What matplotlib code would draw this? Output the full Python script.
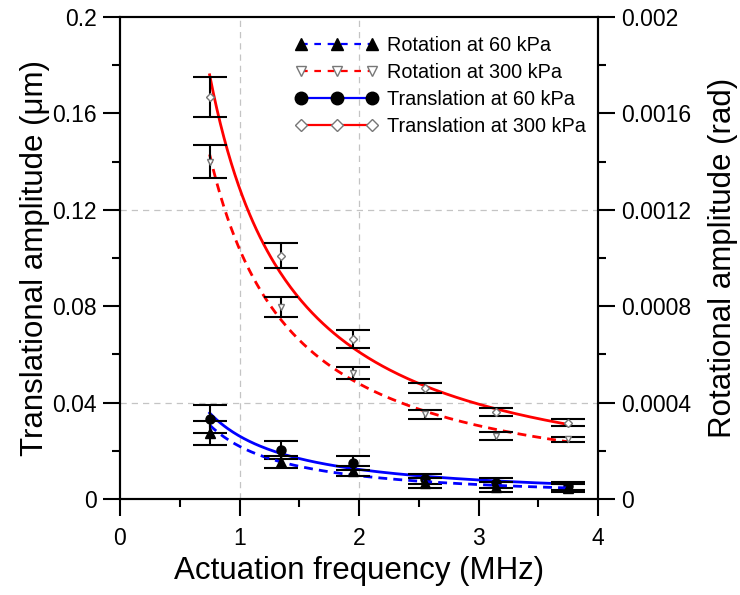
import numpy as np
import matplotlib
matplotlib.use("Agg")
import matplotlib.pyplot as plt
from matplotlib.lines import Line2D

plt.rcParams['font.family'] = ['Liberation Sans', 'DejaVu Sans']

# ---- data ----
freq = [0.75, 1.35, 1.95, 2.55, 3.15, 3.75]

trans60 = [0.0332, 0.0203, 0.0150, 0.0083, 0.0066, 0.0054]
trans60_err = [0.0060, 0.0037, 0.0030, 0.0020, 0.0020, 0.0015]
trans300 = [0.1668, 0.1010, 0.0664, 0.0460, 0.0361, 0.0317]
trans300_err = [0.0083, 0.0052, 0.0037, 0.0020, 0.0017, 0.0015]

rot60 = [0.000274, 0.000154, 0.000115, 0.000066, 0.000050, 0.000046]
rot60_err = [0.000050, 0.000025, 0.000020, 0.000020, 0.000020, 0.000015]
rot300 = [0.001400, 0.000797, 0.000523, 0.000351, 0.000261, 0.000247]
rot300_err = [0.000068, 0.000040, 0.000025, 0.000019, 0.000017, 0.000010]

# power-law fit curves y = amp * f^(-exp)
fit_trans60 = (0.0261, 1.088)
fit_trans300 = (0.129, 1.08)
fit_rot60 = (0.0002186, 1.18)
fit_rot300 = (0.001037, 1.116)

x_ticks = [0, 1, 2, 3, 4]
y_ticks = [0, 0.04, 0.08, 0.12, 0.16, 0.2]
y_tick_labels = ['0', '0.04', '0.08', '0.12', '0.16', '0.2']
y2_ticks = [0, 0.0004, 0.0008, 0.0012, 0.0016, 0.002]
y2_tick_labels = ['0', '0.0004', '0.0008', '0.0012', '0.0016', '0.002']

legend_labels = ['Rotation at 60 kPa', 'Rotation at 300 kPa',
                 'Translation at 60 kPa', 'Translation at 300 kPa']

# ---- figure ----
fig = plt.figure(figsize=(7.4, 5.95), dpi=100)
ax = fig.add_axes([120/740, 1 - 499/595, (598-120)/740, (499-17)/595])
ax2 = ax.twinx()

fx = np.linspace(freq[0], freq[-1], 200)
blue = '#0000ff'
red = '#ff0000'
lw = 2.0
dash = (3.2, 2.2)
cap = 12

# dashed reference lines
for xv in [1, 2]:
    ax.axvline(xv, color='#c4c4c4', lw=0.9, ls=(0, (5, 4)), zorder=0)
for yv in [0.04, 0.12]:
    ax.axhline(yv, color='#c4c4c4', lw=0.9, ls=(0, (5, 4)), zorder=0)

# fit curves
ax.plot(fx, fit_trans300[0] * fx ** (-fit_trans300[1]), color=red, lw=lw, zorder=3)
ax.plot(fx, fit_trans60[0] * fx ** (-fit_trans60[1]), color=blue, lw=lw, zorder=3)
ax2.plot(fx, fit_rot300[0] * fx ** (-fit_rot300[1]), color=red, lw=lw, dashes=dash, zorder=3)
ax2.plot(fx, fit_rot60[0] * fx ** (-fit_rot60[1]), color=blue, lw=lw, dashes=dash, zorder=3)

# data with error bars
ekw = dict(ecolor='black', elinewidth=1.5, capsize=cap, capthick=1.5, ls='none', zorder=4)
ax.errorbar(freq, trans300, yerr=trans300_err, marker='D', ms=4, mfc='white',
            mec='#777777', **ekw)
ax.errorbar(freq, trans60, yerr=trans60_err, marker='o', ms=6.5, mfc='black',
            mec='black', **ekw)
ax2.errorbar(freq, rot300, yerr=rot300_err, marker='v', ms=5, mfc='white',
             mec='#777777', **ekw)
ax2.errorbar(freq, rot60, yerr=rot60_err, marker='^', ms=6.5, mfc='black',
             mec='black', **ekw)

# axes formatting
ax.set_xlim(0, 4)
ax.set_ylim(0, 0.2)
ax2.set_ylim(0, 0.002)
ax.set_xticks(x_ticks)
ax.set_xticks([0.5, 1.5, 2.5, 3.5], minor=True)
ax.set_yticks(y_ticks)
ax.set_yticklabels(y_tick_labels)
ax.set_yticks([0.02, 0.06, 0.10, 0.14, 0.18], minor=True)
ax2.set_yticks(y2_ticks)
ax2.set_yticklabels(y2_tick_labels)
ax2.set_yticks([0.0002, 0.0006, 0.0010, 0.0014, 0.0018], minor=True)

for a in (ax, ax2):
    for s in a.spines.values():
        s.set_linewidth(1.5)
    a.tick_params(which='major', direction='out', length=12.5, width=1.5, labelsize=16.5, pad=4)
    a.tick_params(which='minor', direction='out', length=6, width=1.5)
ax.tick_params(axis='x', which='major', pad=8)
ax.tick_params(top=False, which='both')
ax2.tick_params(top=False, which='both')

ax.set_xlabel('Actuation frequency (MHz)', fontsize=22.5, labelpad=4)
ax.set_ylabel('Translational amplitude (μm)', fontsize=22.5, labelpad=2)
ax2.set_ylabel('Rotational amplitude (rad)', fontsize=22.5, rotation=90, labelpad=12)

# legend
handles = [
    Line2D([], [], color=blue, lw=1.6, dashes=(3, 3), marker='^', ms=8, mfc='black', mec='black'),
    Line2D([], [], color=red, lw=1.6, dashes=(3, 3), marker='v', ms=7, mfc='white', mec='#777777'),
    Line2D([], [], color=blue, lw=1.6, marker='o', ms=9, mfc='black', mec='black'),
    Line2D([], [], color=red, lw=1.6, marker='D', ms=6, mfc='white', mec='#777777'),
]
ax.legend(handles, legend_labels, loc='upper right', bbox_to_anchor=(1.0, 0.985), frameon=False,
          numpoints=3, handlelength=4.2, handletextpad=0.45, labelspacing=0.4,
          fontsize=14.3, borderaxespad=0.2)

fig.savefig('out.png', dpi=100)
